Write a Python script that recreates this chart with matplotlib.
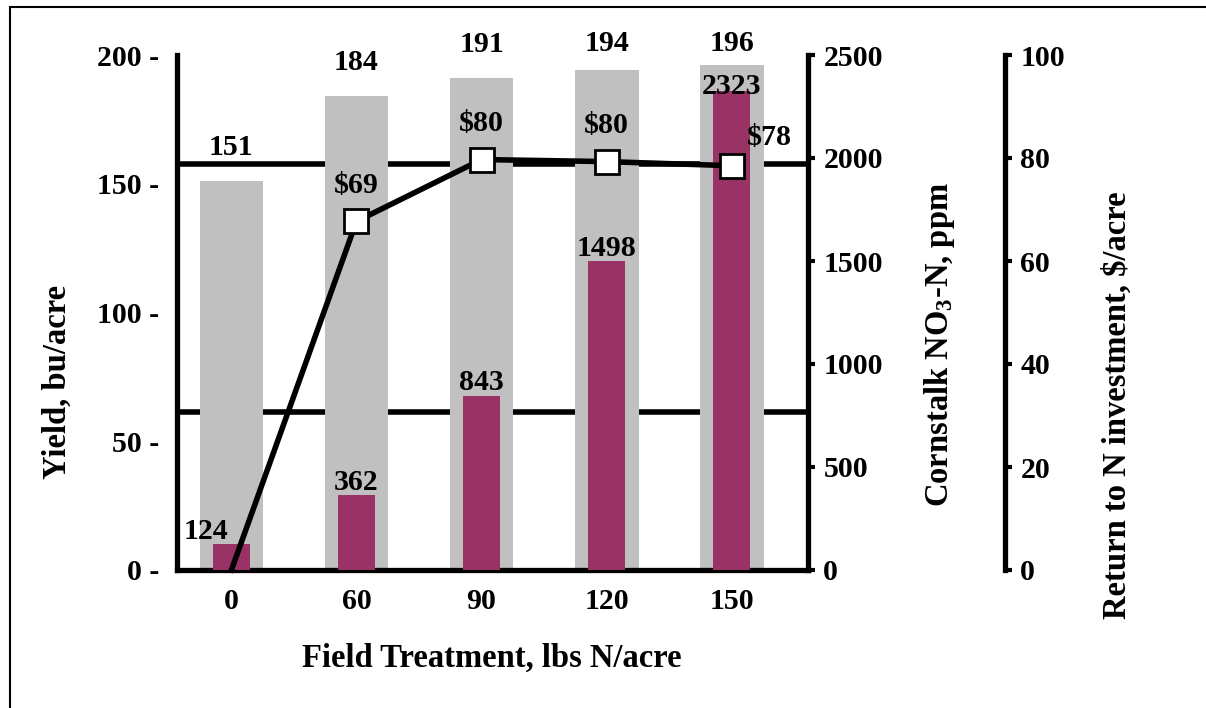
import numpy as np
import matplotlib
matplotlib.use("Agg")
import matplotlib.pyplot as plt
import matplotlib.patches as mpatches
import matplotlib.transforms as mtransforms
from matplotlib.ticker import FuncFormatter

# Datos
tratamientos = ["0", "60", "90", "120", "150"]
rendimiento = [151, 184, 191, 194, 196]          # bu/acre
nitrato = [124, 362, 843, 1498, 2323]            # ppm NO3-N
retorno = [0, 67.7, 79.7, 79.3, 78.5]            # $/acre (posicion de los marcadores)
etiquetas_retorno = ["", "$69", "$80", "$80", "$78"]
umbrales_nitrato = [1970, 765]                   # lineas horizontales, ppm

GRIS = "#C0C0C0"
GRANATE = "#993366"

plt.rcParams["font.family"] = "Liberation Serif"
plt.rcParams["font.weight"] = "bold"
plt.rcParams["mathtext.fontset"] = "custom"
plt.rcParams["mathtext.rm"] = "Liberation Serif:bold"
plt.rcParams["mathtext.bf"] = "Liberation Serif:bold"
plt.rcParams["mathtext.default"] = "rm"

FS_TICK = 21.5
FS_LABEL = 23.5

fig = plt.figure(figsize=(12.06, 7.08), dpi=100)
ax = fig.add_axes([177 / 1206, 1 - 570 / 708, (808 - 177) / 1206, 515 / 708])
ax2 = ax.twinx()
ax3 = ax.twinx()

x = np.arange(len(tratamientos))

# --- Rendimiento (barras grises) ---
ax.bar(x, rendimiento, width=0.51, color=GRIS, zorder=2)
ax.set_xlim(-0.435, 4.61)
ax.set_ylim(0, 200)
ax.set_yticks([0, 50, 100, 150, 200])
ax.yaxis.set_major_formatter(FuncFormatter(lambda v, p: f"{v:.0f} -"))
ax.tick_params(axis="y", length=0, pad=13, labelsize=FS_TICK)
ax.set_xticks(x)
ax.set_xticklabels(tratamientos)
ax.tick_params(axis="x", length=0, pad=13, labelsize=FS_TICK)
for s in ["top", "right"]:
    ax.spines[s].set_visible(False)
ax.spines["left"].set_linewidth(3.8)
ax.spines["bottom"].set_linewidth(3.8)

for xi, v in zip(x, rendimiento):
    ax.text(xi, min(v + 13, 204.5), f"{v}", ha="center", va="center",
            fontsize=FS_TICK, fontweight="bold", zorder=5)

# Umbrales de nitrato dibujados detras de las barras grises
trans = mtransforms.blended_transform_factory(ax.transAxes, ax2.transData)
for u in umbrales_nitrato:
    ax.plot([0, 1], [u, u], color="black", lw=4, transform=trans, zorder=1,
            solid_capstyle="butt")

# --- Nitrato (barras granate) ---
ax2.bar(x, nitrato, width=0.30, color=GRANATE, zorder=2)
ax2.set_ylim(0, 2500)
ax2.set_yticks([0, 500, 1000, 1500, 2000, 2500])
ax2.tick_params(axis="y", length=5, width=3, pad=6, labelsize=FS_TICK)
for s in ["top", "left", "bottom"]:
    ax2.spines[s].set_visible(False)
ax2.spines["right"].set_linewidth(3.8)
for i, (xi, v) in enumerate(zip(x, nitrato)):
    dx = -0.2 if i == 0 else 0
    ax2.text(xi + dx, min(v + 65, 2345), f"{v}", ha="center", va="center",
             fontsize=FS_TICK, fontweight="bold", zorder=5)

# --- Retorno (linea con cuadrados) ---
ax3.plot(x, retorno, color="black", lw=4, marker="s", markersize=17.5,
         markerfacecolor="white", markeredgecolor="black", markeredgewidth=2,
         markevery=[1, 2, 3, 4], zorder=4, clip_on=False)
ax3.set_ylim(0, 100)
ax3.set_yticks([0, 20, 40, 60, 80, 100])
ax3.spines["right"].set_position(("axes", 1 + 197 / 631))
ax3.spines["right"].set_linewidth(3.8)
for s in ["top", "left", "bottom"]:
    ax3.spines[s].set_visible(False)
ax3.tick_params(axis="y", length=5, width=3, pad=6, labelsize=FS_TICK)
for i, (xi, v, t) in enumerate(zip(x, retorno, etiquetas_retorno)):
    if not t:
        continue
    dx, dy = (0.3, 5.5) if i == 4 else (0, 7)
    ax3.text(xi + dx, v + dy, t, ha="center", va="center",
             fontsize=FS_TICK, fontweight="bold", zorder=6)

# --- Titulos de ejes ---
ax.set_xlabel("Field Treatment, lbs N/acre", fontsize=FS_LABEL, fontweight="bold")
ax.xaxis.set_label_coords(0.499, -0.142)
ax.set_ylabel("Yield, bu/acre", fontsize=FS_LABEL, fontweight="bold")
ax.yaxis.set_label_coords(-0.165, 0.365)
ax2.set_ylabel("Cornstalk NO$_3$-N, ppm", fontsize=FS_LABEL, fontweight="bold")
ax2.yaxis.set_label_coords(1.180, 0.437)
ax3.set_ylabel("Return to N investment, $/acre", fontsize=FS_LABEL, fontweight="bold")
ax3.yaxis.set_label_coords(1.465, 0.32)

# Marco exterior
fig.patches.append(mpatches.Rectangle((10 / 1206, -0.1), 1.2, 1.1 - 7 / 708,
                                      transform=fig.transFigure, fill=False,
                                      edgecolor="black", lw=1.5))

fig.savefig("out.png", dpi=100)
